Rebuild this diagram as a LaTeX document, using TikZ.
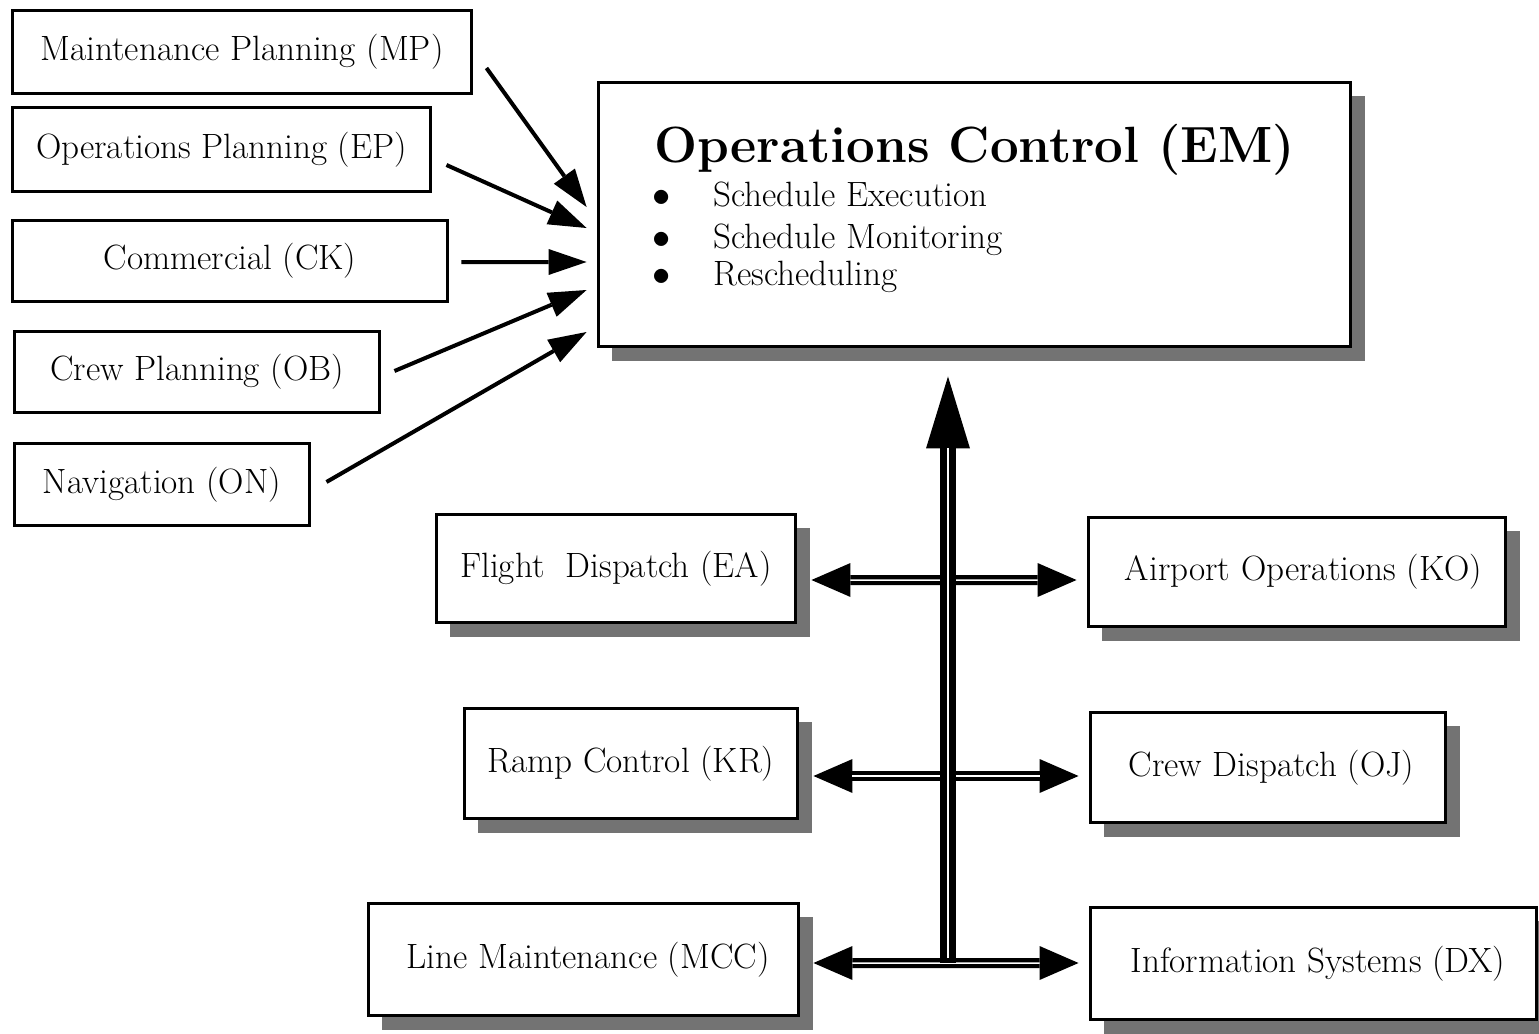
\documentclass[tikz,border=0pt]{standalone}
\usetikzlibrary{positioning, arrows.meta, calc, shadows}
\begin{document}
\begin{tikzpicture}[x=0.02cm, y=-0.02cm,
		unit/.style={draw, line width=0.06cm, fill=white, inner sep=0pt, font=\fontsize{20}{24}\selectfont},
		shadowed/.style={unit, drop shadow={shadow xshift=0.28cm, shadow yshift=-0.28cm, fill=black!55, opacity=1}},
		item/.style={anchor=base west, inner sep=0pt, font=\fontsize{20}{24}\selectfont},
		feed/.style={line width=0.08cm, -{Triangle[length=0.76cm, width=0.52cm, line width=0pt]}},
		bus/.style={line width=0.2cm, {Triangle[length=0.78cm, width=0.68cm, line width=0pt]}-{Triangle[length=0.78cm, width=0.68cm, line width=0pt]}},
		stripe/.style={white, line width=0.03cm}]
		
		% Canvas of the picture (pixel units)
		\useasboundingbox (0,0) rectangle (1539,1034);
		\def\dot{\llap{$\bullet$\hspace{0.86cm}}}
		
		% --- 1. PLANNING UNITS (left column) ---
		\node[unit, minimum width=9.2cm, minimum height=1.68cm] (mp) at (242,52) {Maintenance Planning (MP)};
		\node[unit, minimum width=8.38cm, minimum height=1.7cm] (ep) at (221.5,149.5) {Operations Planning (EP)};
		\node[unit, minimum width=8.72cm, minimum height=1.64cm] (ck) at (230,261) {Commercial (CK)};
		\node[unit, minimum width=7.32cm, minimum height=1.64cm] (ob) at (197,372) {Crew Planning (OB)};
		\node[unit, minimum width=5.92cm, minimum height=1.66cm] (on) at (162,484.5) {Navigation (ON)};
		
		% --- 2. OPERATIONS CONTROL (EM) ---
		\node[shadowed, minimum width=15.06cm, minimum height=5.3cm] (em) at (974.5,214.5) {};
		\node[anchor=base west, inner sep=0pt, font=\fontsize{29}{32}\selectfont\bfseries] (emtitle) at (654,163) {Operations Control (EM)};
		\node[item] (exec) at (713,207) {\dot Schedule Execution};
		\node[item] (moni) at (713,248) {\dot Schedule Monitoring};
		\node[item] (resch) at (713,285) {\dot Rescheduling};
		
		% Inputs from planning into control
		\draw[feed] ($(mp.east)+(13,16)$) -- ($(em.west)+(-10,-7.5)$);
		\draw[feed] ($(ep.east)+(14,15.5)$) -- ($(em.west)+(-10,13.5)$);
		\draw[feed] ($(ck.east)+(12,1)$) -- ($(em.west)+(-10,47.5)$);
		\draw[feed] ($(ob.east)+(13,-1)$) -- ($(em.west)+(-10,75.5)$);
		\draw[feed] ($(on.east)+(15,-2.5)$) -- ($(em.west)+(-10,117.5)$);
		
		% --- 3. EXECUTING UNITS (two columns) ---
		\node[shadowed, minimum width=7.2cm, minimum height=2.18cm] (ea) at (616,568.5) {Flight~~Dispatch (EA)};
		\node[shadowed, minimum width=8.36cm, minimum height=2.2cm] (ko) at (1297,572) {\hspace{0.26cm}Airport Operations (KO)};
		\node[shadowed, minimum width=6.68cm, minimum height=2.22cm] (kr) at (631,763.5) {Ramp Control (KR)};
		\node[shadowed, minimum width=7.12cm, minimum height=2.22cm] (oj) at (1268,767.5) {\hspace{0.14cm}Crew Dispatch (OJ)};
		\node[shadowed, minimum width=8.62cm, minimum height=2.26cm] (mcc) at (583.5,959.5) {\hspace{0.18cm}Line Maintenance (MCC)};
		\node[shadowed, minimum width=8.94cm, minimum height=2.26cm] (dx) at (1313.5,963.5) {\hspace{0.18cm}Information Systems (DX)};
		
		% --- 4. COMMUNICATION BUS ---
		\coordinate (hub) at (948,963);
		
		% Horizontal double arrows (black shaft, thin white stripe)
		\draw[bus] ($(ea.east)+(14,11.5)$) -- ($(ko.west)+(-10,8)$);
		\draw[stripe, yshift=0.03cm, shorten <=0.78cm, shorten >=0.78cm] ($(ea.east)+(14,11.5)$) -- ($(ko.west)+(-10,8)$);
		\draw[bus] ($(kr.east)+(14,12.5)$) -- ($(oj.west)+(-10,8.5)$);
		\draw[stripe, yshift=0.03cm, shorten <=0.78cm, shorten >=0.78cm] ($(kr.east)+(14,12.5)$) -- ($(oj.west)+(-10,8.5)$);
		\draw[bus] ($(mcc.east)+(13,3.5)$) -- ($(dx.west)+(-10,-0.5)$);
		\draw[stripe, yshift=0.03cm, shorten <=0.78cm, shorten >=0.78cm] ($(mcc.east)+(13,3.5)$) -- ($(dx.west)+(-10,-0.5)$);
		
		% Vertical trunk up to Operations Control
		\draw[line width=0.32cm, -{Triangle[length=1.44cm, width=0.88cm, line width=0pt]}, shorten >=0.56cm] (hub) -- (hub |- em.south);
		\draw[stripe, xshift=-0.07cm, shorten <=0.1cm, shorten >=2cm] (hub) -- (hub |- em.south);
		
	\end{tikzpicture}
\end{document}
